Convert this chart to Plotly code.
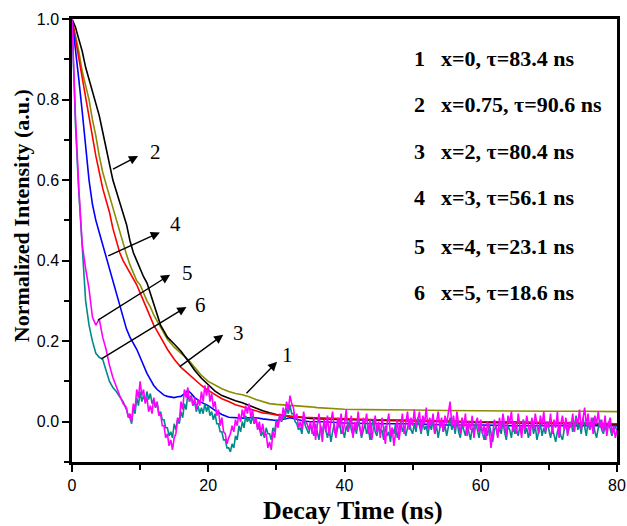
import plotly.graph_objects as go

# curve 1 (olive), curve 2 (black), curve 3 (red), curve 4 (blue)
t1 = [0, 0.5, 1, 1.5, 2, 2.5, 3, 3.5, 4, 4.5, 5, 5.5, 6, 6.5, 7, 7.5, 8, 8.5, 9, 9.5, 10, 10.5, 11, 11.5, 12,
      13, 14, 15, 16, 17, 18, 19, 20, 21, 22, 23, 24, 25, 26, 27, 28, 29, 30, 31, 32, 33, 34, 35, 36, 38, 40,
      43, 46, 50, 55, 60, 65, 70, 75, 80]
v1 = [1.0, 0.96, 0.92, 0.87, 0.835, 0.80, 0.75, 0.71, 0.66, 0.62, 0.59, 0.56, 0.53, 0.50, 0.47, 0.44, 0.415,
      0.39, 0.37, 0.35, 0.34, 0.32, 0.30, 0.285, 0.265, 0.235, 0.205, 0.185, 0.17, 0.155, 0.135, 0.115, 0.1,
      0.09, 0.082, 0.075, 0.07, 0.067, 0.062, 0.055, 0.05, 0.045, 0.043, 0.042, 0.041, 0.04, 0.038, 0.037,
      0.035, 0.033, 0.031, 0.03, 0.029, 0.029, 0.028, 0.027, 0.027, 0.026, 0.026, 0.025]

t2 = [0, 0.5, 1, 1.5, 2, 2.5, 3, 3.5, 4, 4.5, 5, 5.5, 6, 7, 8, 8.5, 9, 9.5, 10, 10.5, 11, 11.5, 12, 12.5, 13,
      13.5, 14, 15, 16, 17, 18, 19, 20, 21, 22, 23, 24, 25, 26, 27, 28, 29, 30, 31, 32, 33, 34, 35, 38, 42, 46,
      50, 55, 60, 65, 70, 75, 80]
v2 = [1.0, 0.98, 0.95, 0.92, 0.88, 0.85, 0.815, 0.79, 0.76, 0.72, 0.68, 0.64, 0.60, 0.545, 0.49, 0.45, 0.42,
      0.40, 0.38, 0.36, 0.345, 0.32, 0.295, 0.265, 0.24, 0.225, 0.21, 0.193, 0.175, 0.152, 0.128, 0.108, 0.092,
      0.076, 0.065, 0.058, 0.052, 0.047, 0.04, 0.033, 0.027, 0.022, 0.018, 0.016, 0.013, 0.012, 0.01, 0.008,
      0.006, 0.004, 0.003, 0.002, 0.0, -0.002, -0.003, -0.004, -0.005, -0.006]

t3 = [0, 0.5, 1, 1.5, 2, 2.5, 3, 3.5, 4, 4.5, 5, 5.5, 6, 6.5, 7, 7.5, 8, 8.5, 9, 9.5, 10, 10.5, 11, 11.5, 12,
      13, 13.5, 14, 15, 16, 17, 18, 19, 20, 21, 22, 23, 24, 25, 26, 27, 28, 29, 30, 32, 34, 36, 40, 45, 50, 55,
      60, 65, 70, 75, 80]
v3 = [1.0, 0.95, 0.9, 0.85, 0.80, 0.75, 0.71, 0.66, 0.62, 0.58, 0.55, 0.52, 0.48, 0.45, 0.42, 0.40, 0.385,
      0.37, 0.355, 0.34, 0.32, 0.30, 0.28, 0.26, 0.24, 0.21, 0.195, 0.18, 0.155, 0.135, 0.12, 0.105, 0.09,
      0.078, 0.068, 0.057, 0.05, 0.042, 0.037, 0.032, 0.027, 0.022, 0.02, 0.017, 0.014, 0.011, 0.01, 0.007,
      0.005, 0.004, 0.002, 0.0, 0.0, -0.002, -0.004, -0.005]

t4 = [0, 0.5, 1, 1.5, 2, 2.5, 3, 3.5, 4, 4.5, 5, 5.5, 6, 6.5, 7, 7.5, 8, 8.5, 9, 9.5, 10, 10.5, 11, 11.5, 12,
      12.5, 13, 13.5, 14, 14.5, 15, 15.5, 16, 16.5, 17, 17.5, 18, 19, 20, 21, 22, 23, 24, 25, 26, 27, 28, 29,
      30, 31, 32, 33, 34, 35, 37, 40, 45, 50, 55, 60, 65, 70, 75, 80]
v4 = [1.0, 0.93, 0.85, 0.77, 0.68, 0.60, 0.54, 0.50, 0.47, 0.44, 0.415, 0.38, 0.35, 0.32, 0.295, 0.26, 0.23,
      0.21, 0.195, 0.18, 0.16, 0.14, 0.12, 0.105, 0.09, 0.08, 0.072, 0.066, 0.063, 0.062, 0.06, 0.062, 0.063,
      0.07, 0.078, 0.07, 0.06, 0.048, 0.04, 0.028, 0.018, 0.011, 0.01, 0.009, 0.01, 0.01, 0.007, 0.005, 0.003,
      0.006, 0.01, 0.006, 0.002, 0.0, 0.0, -0.003, -0.005, -0.005, -0.008, -0.008, -0.01, -0.01, -0.01, -0.01]

# curves 5 (magenta) and 6 (teal): 0 to 8 ns every 0.5 ns, then 8 to 80 ns every 0.25 ns
head_step = 0.5
fine_start = 8.0
fine_step = 0.25
v5_head = [1.0, 0.76, 0.58, 0.44, 0.38, 0.33, 0.26, 0.24, 0.255, 0.21, 0.18, 0.14, 0.11, 0.085, 0.065, 0.045,
           0.035]
v5_fine = [0.035, 0.01, 0.02, 0.0, 0.045, 0.03, 0.08, 0.06, 0.1, 0.065, 0.08, 0.045,
           0.06, 0.025, 0.04, 0.02, 0.06, 0.035, 0.05, 0.015, 0.02, -0.01, -0.01, -0.04,
           -0.03, -0.06, -0.045, -0.07, -0.04, -0.03, 0.01, 0.0, 0.05, 0.03, 0.08, 0.06,
           0.085, 0.05, 0.065, 0.04, 0.06, 0.03, 0.055, 0.04, 0.075, 0.05, 0.09, 0.065,
           0.09, 0.05, 0.07, 0.035, 0.05, 0.015, 0.03, -0.01, 0.01, -0.025, -0.03, -0.055,
           -0.04, -0.03, -0.01, -0.025, 0.005, -0.01, 0.02, 0.0, 0.03, 0.01, 0.04, 0.02,
           0.045, 0.01, 0.03, -0.005, 0.01, -0.02, 0.0, -0.03, -0.005, -0.035, -0.03, -0.065,
           -0.05, -0.07, -0.025, -0.04, 0.0, -0.015, 0.02, 0.0, 0.035, 0.015, 0.05, 0.03,
           0.065, 0.045, 0.035, 0.005, 0.02, -0.015, 0.0, -0.02, 0.025, 0.0, -0.005, -0.02,
           0.0,
           -0.03, 0.01, -0.045, -0.01, 0.02, -0.02, -0.05, 0.005, -0.025, 0.015,
           -0.035, 0.0, 0.025, -0.02, -0.04, 0.01, -0.015, 0.02, -0.03, -0.005,
           0.03, -0.025, -0.01, 0.015, -0.04, 0.0, -0.02, 0.025, -0.015, -0.035,
           0.01, -0.005, 0.02, -0.03, 0.005, -0.045, -0.01, 0.015, -0.025, 0.0,
           -0.04, 0.01, -0.02, -0.055, -0.005, 0.02, -0.035, -0.015, -0.06, -0.02,
           0.005, -0.045, -0.01, 0.02, -0.03, 0.0, 0.025, -0.02, 0.01, -0.01,
           0.03, -0.015, 0.005, 0.025, -0.025, 0.015, -0.005, 0.035, -0.02, 0.01,
           -0.01, 0.02, -0.03, 0.0, 0.025, -0.015, 0.01, -0.025, 0.015, -0.005,
           0.02, 0.05, -0.01, 0.015, -0.02, 0.025, -0.005, -0.03, 0.01, -0.015,
           0.02, -0.035, 0.0, -0.02, 0.015, -0.04, -0.005, 0.01, -0.025, 0.005,
           -0.03, -0.01, -0.045, 0.0, -0.02, -0.065, -0.03, 0.005, -0.015, -0.04,
           0.01, -0.02, 0.02, -0.01, -0.035, 0.015, -0.005, 0.025, -0.025, 0.0,
           -0.03, 0.02, -0.015, -0.04, 0.005, -0.02, 0.015, -0.01, -0.035, 0.01,
           -0.02, 0.02, -0.005, -0.03, 0.015, -0.01, 0.025, -0.025, 0.0, -0.015,
           0.02, -0.03, 0.005, -0.015, 0.025, -0.04, -0.005, 0.015, -0.02, 0.01,
           -0.035, 0.0, -0.015, 0.02, -0.025, 0.01, -0.005, 0.03, -0.02, 0.005,
           0.035, -0.01, 0.02, -0.02, 0.01, -0.03, 0.015, -0.005, 0.025, -0.015,
           0.005, -0.025, 0.015, -0.035, -0.005, 0.01, -0.03, -0.01, -0.04, -0.02]
v6_head = [1.0, 0.74, 0.57, 0.42, 0.30, 0.24, 0.20, 0.17, 0.16, 0.155, 0.125, 0.10, 0.085, 0.075, 0.062, 0.05,
           0.03]
v6_fine = [0.03, 0.015, 0.01, -0.005, 0.035, 0.02, 0.06, 0.04, 0.075, 0.05, 0.065, 0.05,
           0.075, 0.055, 0.07, 0.045, 0.055, 0.035, 0.045, 0.02, 0.025, 0.005, 0.005, -0.015,
           -0.015, -0.035, -0.025, -0.04, -0.005, -0.02, 0.005, -0.005, 0.025, 0.01, 0.045, 0.03,
           0.07, 0.05, 0.065, 0.04, 0.05, 0.025, 0.04, 0.02, 0.035, 0.02, 0.045, 0.025,
           0.04, 0.015, 0.025, 0.005, 0.02, -0.005, -0.005, -0.025, -0.025, -0.045, -0.045, -0.065,
           -0.065, -0.075, -0.055, -0.065, -0.035, -0.045, -0.01, -0.025, 0.0, -0.015, 0.015, 0.0,
           0.01, -0.005, 0.015, -0.005, 0.005, -0.015, -0.015, -0.035, -0.025, -0.04, -0.015, -0.03,
           -0.03, -0.045, -0.015, -0.025, 0.005, -0.01, 0.015, 0.0, 0.015, 0.005, 0.035, 0.02,
           0.04, 0.02, 0.02, 0.0, -0.005, -0.02, -0.015, -0.03, 0.01, -0.01, -0.02, -0.03,
           -0.01,
           -0.02, -0.035, -0.005, -0.025, -0.045, -0.01, -0.03, 0.0, -0.02, -0.04,
           -0.015, -0.05, -0.025, -0.005, -0.035, -0.015, 0.005, -0.03, -0.02, -0.04,
           -0.01, -0.025, 0.005, -0.02, -0.035, -0.01, -0.03, 0.0, -0.015, -0.04,
           -0.02, -0.005, -0.03, -0.015, -0.045, -0.01, 0.005, -0.025, -0.035, -0.01,
           -0.03, -0.02, -0.045, -0.01, -0.035, -0.025, -0.05, -0.015, -0.03, -0.005,
           -0.04, -0.02, 0.0, -0.025, -0.01, -0.035, -0.015, 0.005, -0.02, -0.03,
           -0.005, -0.025, 0.01, -0.015, -0.03, 0.0, -0.02, -0.01, -0.035, -0.005,
           -0.02, 0.005, -0.03, -0.01, -0.04, -0.015, 0.0, -0.025, -0.01, -0.035,
           -0.015, 0.01, -0.02, -0.005, -0.03, 0.005, -0.025, -0.04, -0.01, -0.02,
           -0.035, -0.005, -0.025, -0.045, -0.015, -0.03, 0.0, -0.02, -0.04, -0.01,
           -0.025, -0.045, -0.015, -0.035, -0.005, -0.03, -0.05, -0.02, -0.01, -0.035,
           -0.015, -0.03, 0.0, -0.025, -0.045, -0.01, -0.02, -0.04, -0.005, -0.03,
           -0.02, -0.035, -0.01, -0.025, 0.005, -0.03, -0.015, -0.04, -0.02, 0.0,
           -0.03, -0.01, -0.045, -0.02, -0.005, -0.035, -0.015, -0.03, 0.0, -0.02,
           -0.04, -0.015, -0.03, -0.05, -0.025, -0.01, -0.035, -0.045, -0.02, -0.005,
           -0.03, -0.015, 0.0, -0.025, -0.01, 0.015, -0.02, -0.005, -0.03, 0.01,
           -0.015, -0.035, 0.0, -0.02, -0.01, 0.01, -0.025, -0.04, -0.015, 0.005,
           -0.02, -0.03, -0.01, -0.025, 0.0, -0.015, -0.035, -0.02, -0.01, -0.025]

legend_nums = ["1", "2", "3", "4", "5", "6"]
legend_texts = ["x=0, τ=83.4 ns", "x=0.75, τ=90.6 ns", "x=2, τ=80.4 ns",
                "x=3, τ=56.1 ns", "x=4, τ=23.1 ns", "x=5, τ=18.6 ns"]
legend_y = [0.903, 0.787, 0.670, 0.556, 0.434, 0.320]

# arrows: tail on the curve -> head, label beside the head
arrow_lbl = ["2", "4", "5", "6", "3", "1"]
arrow_tail_x = [5.8, 5.1, 3.6, 4.1, 15.6, 25.4]
arrow_tail_y = [0.625, 0.41, 0.25, 0.154, 0.134, 0.067]
arrow_head_x = [9.7, 12.9, 14.4, 16.8, 22.2, 30.1]
arrow_head_y = [0.66, 0.47, 0.365, 0.285, 0.216, 0.149]
lbl_x = [11.2, 14.1, 15.9, 17.8, 23.4, 30.5]
lbl_y = [0.67, 0.49, 0.37, 0.29, 0.22, 0.166]

SERIF = "Liberation Serif"
SANS = "Liberation Sans"
OLIVE, TEAL, MAGENTA = "#8c8c00", "#008b8b", "#ff00ff"

fig = go.Figure()
lw = 1.6
fig.add_trace(go.Scatter(x=t1, y=v1, mode="lines", line=dict(color=OLIVE, width=lw)))
fig.add_trace(go.Scatter(x=t2, y=v2, mode="lines", line=dict(color="black", width=lw)))
fig.add_trace(go.Scatter(x=t3, y=v3, mode="lines", line=dict(color="red", width=lw)))
fig.add_trace(go.Scatter(x=t4, y=v4, mode="lines", line=dict(color="blue", width=lw)))
fig.add_trace(go.Scatter(x0=0, dx=head_step, y=v6_head, mode="lines", line=dict(color=TEAL, width=lw)))
fig.add_trace(go.Scatter(x0=fine_start, dx=fine_step, y=v6_fine, mode="lines", line=dict(color=TEAL, width=lw)))
fig.add_trace(go.Scatter(x0=0, dx=head_step, y=v5_head, mode="lines", line=dict(color=MAGENTA, width=lw)))
fig.add_trace(go.Scatter(x0=fine_start, dx=fine_step, y=v5_fine, mode="lines",
                         line=dict(color=MAGENTA, width=lw)))

for i in range(len(arrow_lbl)):
    fig.add_annotation(x=arrow_head_x[i], y=arrow_head_y[i], ax=arrow_tail_x[i], ay=arrow_tail_y[i],
                       xref="x", yref="y", axref="x", ayref="y", text="", showarrow=True,
                       arrowhead=2, arrowsize=1.3, arrowwidth=1.4, arrowcolor="black")
    fig.add_annotation(x=lbl_x[i], y=lbl_y[i], text=arrow_lbl[i], showarrow=False,
                       xanchor="left", yanchor="middle", font=dict(family=SERIF, size=21, color="black"))

for i in range(len(legend_nums)):
    fig.add_annotation(x=49.9, y=legend_y[i], text="<b>%s</b>" % legend_nums[i], showarrow=False,
                       xanchor="left", yanchor="middle", font=dict(family=SERIF, size=22, color="black"))
    fig.add_annotation(x=53.9, y=legend_y[i], text="<b>%s</b>" % legend_texts[i], showarrow=False,
                       xanchor="left", yanchor="middle", font=dict(family=SERIF, size=22, color="black"))

# axis titles as annotations so they sit where the original has them
fig.add_annotation(text="<b>Normalized Intensity (a.u.)</b>", textangle=-90, showarrow=False,
                   xref="paper", yref="paper", x=0, y=0.555, xanchor="center", yanchor="middle",
                   xshift=-51, font=dict(family=SERIF, size=22, color="black"))
fig.add_annotation(text="<b>Decay Time (ns)</b>", showarrow=False,
                   xref="paper", yref="paper", x=0.516, y=0, xanchor="center", yanchor="middle",
                   yshift=-48, font=dict(family=SERIF, size=26, color="black"))

axis_common = dict(showgrid=False, zeroline=False, showline=True, linecolor="black", linewidth=2.5,
                   mirror=True, ticks="outside", ticklen=7, tickwidth=2, tickcolor="black",
                   automargin=False, tickfont=dict(family=SANS, size=16, color="black"))

fig.update_layout(
    width=627, height=526,
    margin=dict(l=72, r=10, t=19, b=64),
    plot_bgcolor="white", paper_bgcolor="white",
    showlegend=False,
    xaxis=dict(range=[0, 80], dtick=20, tick0=0,
               minor=dict(dtick=10, ticks="outside", ticklen=5, tickwidth=2, tickcolor="black"),
               **axis_common),
    yaxis=dict(range=[-0.1, 1.0], dtick=0.2, tick0=0, tickformat=".1f",
               minor=dict(dtick=0.1, tick0=0, ticks="outside", ticklen=5, tickwidth=2, tickcolor="black"),
               **axis_common),
)

# drop the browser's default page margin so the figure fills the window
fig.write_html("out.html", config={"displayModeBar": False},
               post_script="document.body.style.margin='0px';")
